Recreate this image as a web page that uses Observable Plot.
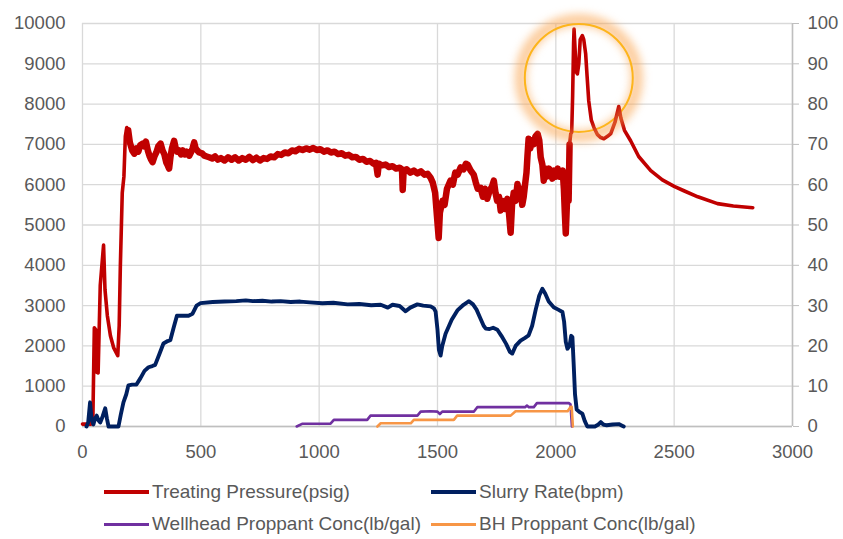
<!DOCTYPE html>
<html>
<head>
<meta charset="utf-8">
<script src="https://cdn.jsdelivr.net/npm/d3@7"></script>
<script src="https://cdn.jsdelivr.net/npm/@observablehq/plot@0.6"></script>
<style>
  html, body { margin: 0; padding: 0; background: #fff; }
  #wrap { position: relative; width: 843px; height: 539px; overflow: hidden; font-family: "Liberation Sans", Arial, sans-serif; }
  .leg { position: absolute; height: 22px; display: flex; align-items: center; white-space: nowrap; }
  .sw { width: 45px; height: 3px; margin-right: 3px; flex: none; }
  .lt { display: inline-block; font-size: 19px; color: #595959; }
</style>
</head>
<body>
<div id="wrap"><div id="chart"></div><div id="legend"></div></div>
<script>
// ---- data (time in seconds on x) ----
const xTicks = [0, 500, 1000, 1500, 2000, 2500, 3000];
const leftTicks = [0, 1000, 2000, 3000, 4000, 5000, 6000, 7000, 8000, 9000, 10000];
const rightTicks = [0, 10, 20, 30, 40, 50, 60, 70, 80, 90, 100];

const seriesNames = ["Treating Pressure(psig)", "Slurry Rate(bpm)", "Wellhead Proppant Conc(lb/gal)", "BH Proppant Conc(lb/gal)"];
const seriesColors = ["#c00000", "#002060", "#7030a0", "#f79646"];

// Treating pressure, psig (left axis): [time, psig]
const treatingPressure = [
  [0,60],[36,60],[44,250],[50,2450],[56,2400],[60,1350],[66,1330],[75,3500],[89,4500],[95,3400],[105,2750],[118,2250],[132,1950],[149,1760],
  [155,2500],[160,4000],[168,5800],[175,6200],[181,7200],[187,7420],[193,7350],[200,7050],[210,6850],[219,6770],[228,6900],[236,6820],
  [244,6980],[254,7020],[262,6950],[268,7070],[276,6850],[284,6700],[290,6620],[296,6560],[304,6700],[312,6800],[320,6950],[330,7020],
  [338,6850],[346,6750],[354,6550],[360,6480],[366,6400],[372,6700],[378,6900],[387,7090],[394,6900],[400,6820],[408,6850],[416,6750],
  [424,6850],[432,6750],[440,6820],[451,6720],[458,6800],[465,6900],[472,7050],[478,6900],[485,6850],[493,6800],[505,6780],[515,6720],
  [525,6700],[535,6680],[548,6650],[560,6700],[572,6620],[585,6660],[600,6600],[615,6680],[630,6620],[645,6680],[660,6600],[675,6660],
  [690,6620],[705,6690],[720,6610],[735,6670],[750,6600],[765,6660],[780,6640],[795,6700],[810,6680],[825,6760],[840,6740],[855,6800],
  [870,6780],[885,6850],[900,6830],[915,6890],[930,6860],[945,6900],[960,6870],[975,6910],[990,6860],[1005,6880],[1020,6820],[1035,6850],
  [1050,6800],[1065,6820],[1080,6760],[1095,6780],[1110,6720],[1125,6740],[1140,6680],[1155,6690],[1170,6620],[1185,6640],[1200,6570],
  [1215,6590],[1230,6520],[1240,6540],[1247,6250],[1252,6520],[1265,6480],[1280,6500],[1295,6440],[1310,6460],[1325,6400],[1340,6420],
  [1350,6380],[1353,5870],[1357,6350],[1370,6380],[1385,6300],[1400,6350],[1415,6280],[1430,6330],[1445,6250],[1458,6270],[1470,6180],
  [1480,6050],[1490,5800],[1498,5200],[1505,4680],[1510,5300],[1521,5600],[1530,5500],[1540,5900],[1555,6100],[1565,6000],[1575,6300],
  [1585,6250],[1598,6430],[1610,6380],[1620,6520],[1627,6500],[1640,6350],[1653,6250],[1662,6050],[1670,5900],[1682,5920],[1692,5700],
  [1700,5900],[1710,5650],[1720,5850],[1730,5950],[1738,6100],[1745,5800],[1752,5600],[1760,5700],[1767,5360],[1775,5600],[1785,5400],
  [1795,5650],[1802,5300],[1809,4810],[1815,5500],[1822,5800],[1830,5600],[1838,6020],[1845,5700],[1852,5900],[1858,5500],[1864,5690],
  [1870,6000],[1876,6300],[1880,6700],[1885,7140],[1892,6900],[1898,7100],[1906,7000],[1914,7200],[1923,7260],[1930,7100],[1936,6680],
  [1943,6500],[1949,6100],[1955,6400],[1962,6200],[1970,6400],[1978,6350],[1985,6150],[1992,6350],[2000,6200],[2008,6400],[2015,6200],
  [2022,6300],[2029,6350],[2034,5900],[2038,5300],[2042,4790],[2048,5700],[2054,5600],[2058,7000],[2063,7260],[2067,7300],[2071,8200],
  [2075,9500],[2077,9860],[2081,9400],[2086,8800],[2091,8750],[2097,9000],[2103,9600],[2112,9700],[2118,9600],[2126,9250],[2132,8700],
  [2139,8080],[2150,7600],[2161,7420],[2175,7250],[2190,7170],[2203,7140],[2218,7200],[2232,7270],[2250,7550],[2266,7940],[2275,7650],
  [2290,7350],[2316,7090],[2350,6700],[2401,6350],[2450,6120],[2500,5960],[2541,5850],[2600,5700],[2683,5530],[2750,5470],[2832,5430]
];

// Slurry rate, bpm (right axis): [time, bpm]
const slurryRate = [
  [17,0],[24,1],[32,6],[38,2],[46,0.5],[53,2],[60,2.7],[68,1.5],[75,1],[85,2.5],[96,4.5],[103,2],[110,0],[152,0],[162,3],[173,6],
  [185,8],[194,10.2],[210,10.4],[228,10.4],[245,12],[262,13.8],[279,14.7],[295,15],[307,15.3],[325,18],[342,20.6],[360,21.2],[371,21.4],
  [385,24.5],[399,27.5],[420,27.5],[448,27.5],[465,28],[482,30],[499,30.6],[550,30.9],[600,31],[650,31.1],[690,31.3],[720,31.1],
  [760,31.2],[800,31],[837,31.1],[880,30.9],[920,31],[960,30.8],[1014,30.6],[1060,30.7],[1120,30.3],[1170,30.4],[1220,30.1],[1260,30.2],
  [1290,29.5],[1310,30.2],[1340,29.9],[1365,28.6],[1385,29.5],[1415,30.3],[1440,30],[1471,29.8],[1485,29.3],[1492,28.5],[1500,24],
  [1506,19],[1513,17.6],[1520,20],[1534,23],[1560,26.5],[1584,28.8],[1610,30.2],[1633,31.1],[1650,30.3],[1665,29],[1680,27],[1695,25],
  [1704,24.3],[1720,24.2],[1735,24.5],[1753,24],[1770,22.5],[1790,20.5],[1806,18.5],[1816,18.1],[1830,20],[1851,21.3],[1870,22],
  [1885,22.6],[1900,25],[1915,29],[1930,32.5],[1943,34.2],[1955,33],[1970,31],[1991,29.6],[2010,29],[2028,28.4],[2035,26],[2042,21],
  [2049,19.3],[2058,20],[2065,22.5],[2070,22.2],[2075,16],[2081,8],[2088,4.2],[2100,3.6],[2112,3.2],[2122,1.4],[2133,0],[2165,0],
  [2180,0.5],[2190,1.1],[2200,0.5],[2215,0.3],[2240,0.5],[2266,0.6],[2280,0.2],[2287,0]
];

// Wellhead proppant concentration, lb/gal (right axis)
const wellheadConc = [
  [905,0],[930,0.7],[1048,0.7],[1062,1.65],[1203,1.65],[1217,2.7],[1415,2.7],[1429,3.7],[1470,3.8],[1500,3.7],[1510,3.1],[1520,3.7],
  [1654,3.7],[1668,4.8],[1870,4.8],[1878,5.2],[1886,4.8],[1907,4.8],[1920,5.8],[2055,5.8],[2062,5.5],[2068,0]
];

// Bottom-hole proppant concentration, lb/gal (right axis)
const bhConc = [
  [1246,0],[1260,0.8],[1387,0.8],[1400,1.65],[1569,1.65],[1583,2.7],[1809,2.7],[1830,3.8],[2050,3.8],[2063,4.9],[2067,4.9],[2072,0]
];

// Highlight ring around the pressure peak [time, psig]
const highlight = [[2097, 8650]];

// Time span where the pressure trace is a noisy band
const noisySpan = [190, 2060];

const RIGHT_FACTOR = 100; // 0..100 right axis onto 0..10000 left scale

const pts = (arr, f = 1) => arr.map(([t, v]) => ({t, v: v * f}));
const pressurePts = pts(treatingPressure);

const plot = Plot.plot({
  width: 843,
  height: 465,
  marginLeft: 82,
  marginRight: 51,
  marginTop: 23,
  marginBottom: 39,
  x: {domain: [0, 3000]},
  y: {domain: [0, 10000]},
  style: {fontSize: "18.5px", fontFamily: "'Liberation Sans', Arial, sans-serif", color: "#595959", background: "#fff", overflow: "visible"},
  marks: [
    Plot.gridX(xTicks, {stroke: "#d9d9d9", strokeOpacity: 1, strokeWidth: 1.3}),
    Plot.gridY(leftTicks, {stroke: "#d9d9d9", strokeOpacity: 1, strokeWidth: 1.3}),
    Plot.ruleY([0], {stroke: "#bfbfbf", strokeWidth: 1.5}),
    Plot.ruleX([3000], {stroke: "#bfbfbf", strokeWidth: 1.5}),
    Plot.axisX(xTicks, {tickSize: 0, tickPadding: 18, label: null, fill: "#595959", tickFormat: d => String(d)}),
    Plot.axisY(leftTicks, {anchor: "left", tickSize: 0, tickPadding: 17, label: null, fill: "#595959", tickFormat: d => String(d)}),
    Plot.axisY(rightTicks.map(d => d * RIGHT_FACTOR), {anchor: "right", tickSize: 6, tickPadding: 9, stroke: "#bfbfbf", fill: "#595959",
      tickFormat: d => String(d / RIGHT_FACTOR), label: null}),
    Plot.dot(pts(highlight), {x: "t", y: "v", r: 54, stroke: "#ffc000", strokeWidth: 2, fill: "none"}),
    Plot.line(pressurePts, {x: "t", y: "v", stroke: seriesColors[0], strokeWidth: 3.6, strokeLinejoin: "round"}),
    Plot.line(pressurePts.filter(d => d.t >= noisySpan[0] && d.t <= noisySpan[1]),
      {x: "t", y: "v", stroke: seriesColors[0], strokeWidth: 6.5, strokeLinejoin: "round"}),
    Plot.line(pts(slurryRate, RIGHT_FACTOR), {x: "t", y: "v", stroke: seriesColors[1], strokeWidth: 3.9, strokeLinejoin: "round"}),
    Plot.line(pts(wellheadConc, RIGHT_FACTOR), {x: "t", y: "v", stroke: seriesColors[2], strokeWidth: 2.6, strokeLinejoin: "round"}),
    Plot.line(pts(bhConc, RIGHT_FACTOR), {x: "t", y: "v", stroke: seriesColors[3], strokeWidth: 2.6, strokeLinejoin: "round"}),
    Plot.dot(pts(highlight), {x: "t", y: "v", r: 58, stroke: "#f9a24a", strokeWidth: 12, strokeOpacity: 0.55, fill: "none"})
  ]
});
document.getElementById("chart").appendChild(plot);

// soft glow on the outer highlight ring
const dots = plot.querySelectorAll('g[aria-label="dot"]');
if (dots.length) dots[dots.length - 1].style.filter = "blur(4px)";

// legend (HTML, below the SVG)
const legendPos = [[104, 481], [431, 481], [104, 513], [431, 513]];
const lw = [3.5, 3.5, 3, 3];
const legend = document.getElementById("legend");
seriesNames.forEach((name, i) => {
  const item = document.createElement("div");
  item.className = "leg";
  item.style.left = legendPos[i][0] + "px";
  item.style.top = legendPos[i][1] + "px";
  item.innerHTML = `<span class="sw" style="background:${seriesColors[i]};height:${lw[i]}px"></span><span class="lt">${name}</span>`;
  legend.appendChild(item);
});
</script>
</body>
</html>
